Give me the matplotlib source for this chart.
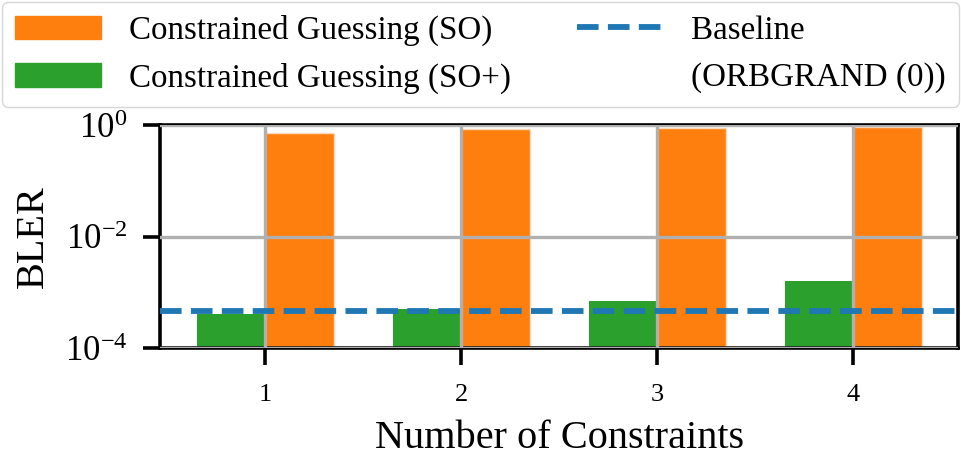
import numpy as np
import matplotlib
matplotlib.use("Agg")
import matplotlib.pyplot as plt
from matplotlib.lines import Line2D
from matplotlib.patches import Patch

# Data
constraints = [1, 2, 3, 4]
bler_so = [0.71, 0.85, 0.90, 0.94]
bler_so_plus = [4.2e-4, 5.0e-4, 7.0e-4, 1.6e-3]
baseline = 4.7e-4

label_so = 'Constrained Guessing (SO)'
label_so_plus = 'Constrained Guessing (SO+)'
label_base = ['Baseline', '(ORBGRAND (0))']

plt.rcParams['font.family'] = ['Liberation Serif', 'DejaVu Serif']
plt.rcParams['mathtext.fontset'] = 'stix'

fig = plt.figure(figsize=(9.61, 4.62), dpi=100)
ax = fig.add_axes([0.167, 0.246, 0.830, 0.483])

x = np.array(constraints)
width = 0.35
ax.bar(x, bler_so_plus, width=-width, align='edge', color='#2ca02c', zorder=1)
ax.bar(x, bler_so, width=width, align='edge', color='#ff7f0e',
       edgecolor='#ffd9b8', linewidth=1, zorder=1)
ax.axhline(baseline, color='#1f77b4', linestyle='--', linewidth=4.2, zorder=3)

ax.set_yscale('log')
ax.set_ylim(1e-4, 1)
ax.set_yticks([1e-4, 1e-2, 1])
ax.yaxis.set_minor_locator(matplotlib.ticker.NullLocator())
ax.set_xticks(constraints)
ax.grid(True, color='#b0b0b0', linewidth=2.4, zorder=2)
ax.set_axisbelow(False)

for s in ax.spines.values():
    s.set_linewidth(2.6)
ax.tick_params(axis='both', width=2.6, length=12)
ax.tick_params(axis='x', labelsize=19, pad=14)
ax.tick_params(axis='y', labelsize=25, pad=12)

ax.set_xlabel('Number of Constraints', fontsize=29, labelpad=10)
ax.set_ylabel('BLER', fontsize=29, labelpad=9)

# legend: the baseline label is split over two rows so it lines up with column 1
handles = [
    Patch(color='#ff7f0e'),
    Patch(color='#2ca02c'),
    Line2D([], [], color='#1f77b4', linestyle='--', linewidth=4.2),
    Line2D([], [], color='none'),
]
fig.legend(handles, [label_so, label_so_plus] + label_base, ncol=2,
           loc='upper center', bbox_to_anchor=(0.5, 1.0), fontsize=23.8,
           handlelength=2.6, handletextpad=0.85, columnspacing=2.0,
           labelspacing=0.5, borderaxespad=0.05, edgecolor='#cccccc',
           framealpha=0.8, fancybox=True)

fig.savefig('out.png', dpi=100)
